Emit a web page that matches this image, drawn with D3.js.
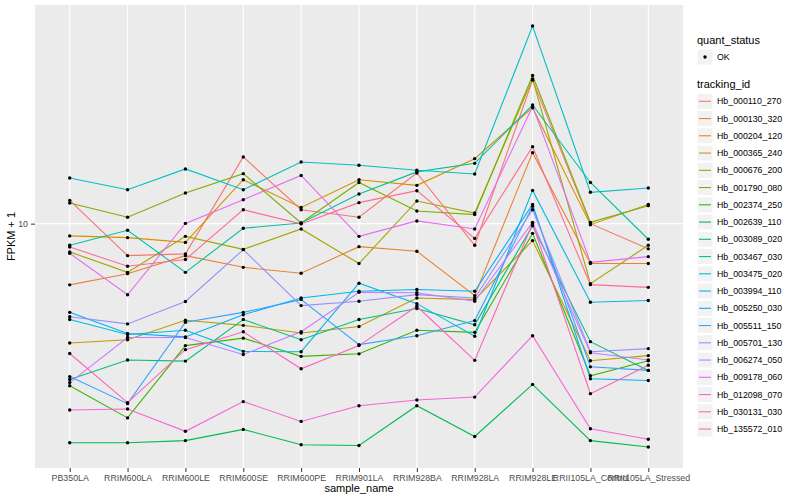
<!DOCTYPE html>
<html>
<head>
<meta charset="utf-8">
<script src="https://cdn.jsdelivr.net/npm/d3@7"></script>
<style>
  body { margin: 0; background: #fff; }
  text { font-family: "Liberation Sans", Arial, sans-serif; }
</style>
</head>
<body>
<svg id="chart" width="800" height="500"></svg>
<script>
// samples on the x axis
const samples = ['PB350LA', 'RRIM600LA', 'RRIM600LE', 'RRIM600SE', 'RRIM600PE', 'RRIM901LA',
                 'RRIM928BA', 'RRIM928LA', 'RRIM928LE', 'RRII105LA_Control', 'RRII105LA_Stressed'];

// FPKM + 1 per gene, one value per sample
const hb_000110_270 = [11.96, 7.82, 7.93, 16.69, 11.13, 10.50, 14.75, 8.47, 30.1, 10.0, 8.24];
const hb_000130_320 = [6.25, 6.81, 7.82, 7.15, 6.83, 8.38, 8.09, 5.75, 17.25, 7.36, 7.36];
const hb_000204_120 = [9.10, 8.98, 8.66, 14.01, 11.33, 14.01, 13.42, 16.47, 24.36, 9.92, 11.59];
const hb_000365_240 = [4.00, 4.10, 4.76, 4.58, 4.32, 4.54, 5.65, 5.58, 8.78, 3.49, 3.63];
const hb_000676_200 = [8.05, 6.88, 9.07, 8.21, 9.60, 7.36, 11.90, 10.85, 30.4, 6.31, 8.47];
const hb_001790_080 = [11.72, 10.50, 12.66, 14.68, 10.05, 13.72, 11.02, 10.72, 31.2, 10.10, 11.48];
const hb_002374_250 = [2.88, 2.25, 3.92, 4.15, 3.61, 3.68, 4.41, 4.34, 9.28, 3.11, 3.49];
const hb_002639_110 = [1.86, 1.86, 1.89, 2.06, 1.83, 1.82, 2.47, 1.95, 2.91, 1.89, 1.80];
const hb_003089_020 = [3.02, 3.51, 3.48, 4.79, 4.10, 4.79, 5.21, 4.60, 9.84, 4.04, 3.24];
const hb_003467_030 = [8.47, 9.50, 6.88, 9.65, 10.05, 12.56, 14.88, 15.89, 24.87, 13.72, 8.87];
const hb_003475_020 = [14.20, 12.98, 15.22, 12.98, 16.06, 15.65, 15.06, 14.64, 45.6, 12.72, 13.15];
const hb_003994_110 = [4.79, 4.27, 4.41, 3.75, 3.74, 6.33, 5.41, 4.21, 12.91, 5.47, 5.54];
const hb_005250_030 = [5.06, 4.30, 4.19, 4.97, 5.65, 5.95, 6.03, 5.95, 11.59, 3.04, 3.00];
const hb_005511_150 = [3.09, 2.51, 4.69, 5.06, 5.58, 3.95, 4.23, 4.75, 11.42, 3.33, 3.24];
const hb_005701_130 = [4.89, 4.63, 5.50, 8.19, 5.33, 5.51, 5.80, 5.65, 11.13, 3.74, 3.83];
const hb_006274_050 = [2.95, 4.17, 4.17, 3.66, 4.36, 5.90, 5.88, 5.51, 10.10, 3.71, 3.51];
const hb_009178_060 = [7.96, 5.79, 10.02, 12.02, 14.48, 9.07, 10.21, 9.60, 24.60, 7.43, 7.76];
const hb_012098_070 = [2.39, 2.41, 2.03, 2.55, 2.19, 2.47, 2.58, 2.64, 4.23, 2.07, 1.91];
const hb_030131_030 = [3.69, 2.53, 3.80, 4.36, 3.28, 3.92, 5.30, 3.50, 10.0, 2.71, 3.37];
const hb_135572_010 = [8.36, 7.21, 7.59, 11.13, 9.98, 11.75, 12.88, 8.93, 18.06, 6.26, 6.13];

const trackingIds = ['Hb_000110_270', 'Hb_000130_320', 'Hb_000204_120', 'Hb_000365_240', 'Hb_000676_200',
                     'Hb_001790_080', 'Hb_002374_250', 'Hb_002639_110', 'Hb_003089_020', 'Hb_003467_030',
                     'Hb_003475_020', 'Hb_003994_110', 'Hb_005250_030', 'Hb_005511_150', 'Hb_005701_130',
                     'Hb_006274_050', 'Hb_009178_060', 'Hb_012098_070', 'Hb_030131_030', 'Hb_135572_010'];
const seriesValues = [hb_000110_270, hb_000130_320, hb_000204_120, hb_000365_240, hb_000676_200,
                      hb_001790_080, hb_002374_250, hb_002639_110, hb_003089_020, hb_003467_030,
                      hb_003475_020, hb_003994_110, hb_005250_030, hb_005511_150, hb_005701_130,
                      hb_006274_050, hb_009178_060, hb_012098_070, hb_030131_030, hb_135572_010];
const yTicks = [10];
const quantStatus = ['OK'];

// ggplot hue palette, 20 levels
const hues = ['#F8766D', '#EA8331', '#D89000', '#C09B00', '#A3A500', '#7CAE00', '#39B600', '#00BB4E',
              '#00BF7D', '#00C1A3', '#00BFC4', '#00BAE0', '#00B0F6', '#35A2FF', '#9590FF', '#C77CFF',
              '#E76BF3', '#FA62DB', '#FF62BC', '#FF6C91'];

const panel = { left: 35, right: 683, top: 5, bottom: 468 };
const svg = d3.select('#chart');
const color = d3.scaleOrdinal().domain(trackingIds).range(hues);

const series = trackingIds.map((id, i) => ({
    id: id,
    points: samples.map((s, j) => ({ sample: s, value: seriesValues[i][j] }))
}));

// log scale with ggplot's 5% expansion on the transformed range
const allValues = seriesValues.flat();
const lo = Math.log10(d3.min(allValues)), hi = Math.log10(d3.max(allValues));
const pad = (hi - lo) * 0.05;
const y = d3.scaleLog()
    .domain([Math.pow(10, lo - pad), Math.pow(10, hi + pad)])
    .range([panel.bottom, panel.top]);
const x = d3.scalePoint()
    .domain(samples)
    .range([panel.left, panel.right])
    .padding(0.6);

svg.append('rect')
    .attr('x', panel.left).attr('y', panel.top)
    .attr('width', panel.right - panel.left).attr('height', panel.bottom - panel.top)
    .attr('fill', '#EBEBEB');

const grid = svg.append('g').attr('stroke', '#fff').attr('stroke-width', 1.1);
grid.selectAll('.gx').data(samples).join('line')
    .attr('x1', d => x(d)).attr('x2', d => x(d))
    .attr('y1', panel.top).attr('y2', panel.bottom);
grid.selectAll('.gy').data(yTicks).join('line')
    .attr('x1', panel.left).attr('x2', panel.right)
    .attr('y1', d => y(d)).attr('y2', d => y(d));

const line = d3.line().x(d => x(d.sample)).y(d => y(d.value));
svg.append('g').selectAll('path').data(series).join('path')
    .attr('d', d => line(d.points))
    .attr('fill', 'none')
    .attr('stroke', d => color(d.id))
    .attr('stroke-width', 1.1);

svg.append('g').selectAll('g').data(series).join('g')
    .selectAll('circle').data(d => d.points).join('circle')
    .attr('cx', d => x(d.sample))
    .attr('cy', d => y(d.value))
    .attr('r', 1.7)
    .attr('fill', '#000');

// axes
const xAxis = svg.append('g')
    .attr('transform', `translate(0,${panel.bottom})`)
    .call(d3.axisBottom(x).tickSize(4).tickPadding(3));
const yAxis = svg.append('g')
    .attr('transform', `translate(${panel.left},0)`)
    .call(d3.axisLeft(y).tickValues(yTicks).tickFormat(d3.format('d')).tickSize(4).tickPadding(3));
[xAxis, yAxis].forEach(a => {
    a.select('.domain').remove();
    a.selectAll('line').attr('stroke', '#333');
    a.selectAll('text').attr('fill', '#4D4D4D').style('font-size', '8.8px')
        .style('font-family', '"Liberation Sans", Arial, sans-serif');
});

svg.append('text')
    .attr('x', (panel.left + panel.right) / 2).attr('y', 492)
    .attr('text-anchor', 'middle').style('font-size', '11px')
    .text('sample_name');
svg.append('text')
    .attr('transform', `translate(15,${(panel.top + panel.bottom) / 2}) rotate(-90)`)
    .attr('text-anchor', 'middle').style('font-size', '11px')
    .text('FPKM + 1');

// legends
const legend = svg.append('g').attr('transform', 'translate(697,0)');
legend.append('text').attr('x', 0).attr('y', 44).style('font-size', '11px').text('quant_status');
const qk = legend.selectAll('.qk').data(quantStatus).join('g')
    .attr('transform', (d, i) => `translate(0,${49 + i * 17.25})`);
qk.append('rect').attr('width', 16).attr('height', 16).attr('fill', '#F2F2F2').attr('stroke', '#fff');
qk.append('circle').attr('cx', 8).attr('cy', 8).attr('r', 1.7).attr('fill', '#000');
qk.append('text').attr('x', 20).attr('y', 11.2).style('font-size', '8.8px').text(d => d);

legend.append('text').attr('x', 0).attr('y', 88).style('font-size', '11px').text('tracking_id');
const tk = legend.selectAll('.tk').data(trackingIds).join('g')
    .attr('transform', (d, i) => `translate(0,${93.3 + i * 17.25})`);
tk.append('rect').attr('width', 16).attr('height', 16).attr('fill', '#F2F2F2').attr('stroke', '#fff');
tk.append('line').attr('x1', 2).attr('x2', 14).attr('y1', 8).attr('y2', 8)
    .attr('stroke', d => color(d)).attr('stroke-width', 1.1);
tk.append('text').attr('x', 20).attr('y', 11.2).style('font-size', '8.8px').text(d => d);
</script>
</body>
</html>
